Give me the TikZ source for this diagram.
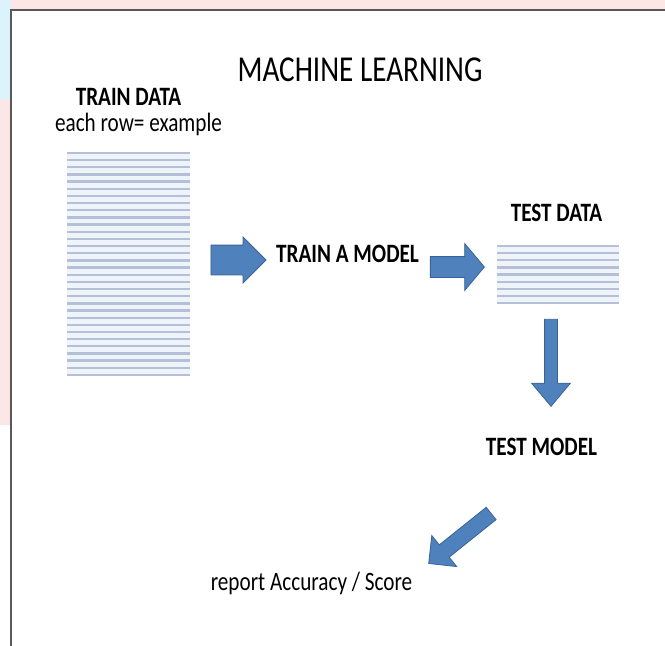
\documentclass[tikz,border=0pt]{standalone}
\usepackage{fontspec}
\setmainfont{Carlito}
\usepackage{xcolor}
\usepackage{tikz}
\usetikzlibrary{shapes.arrows}

\definecolor{arrowblue}{HTML}{4F81BD}
\definecolor{arrowedge}{HTML}{3A6496}
\definecolor{rowline}{HTML}{B3C0D8}
\definecolor{rowfill}{HTML}{EFF4FB}
\definecolor{edgepink}{HTML}{FDE6E6}
\definecolor{edgeblue}{HTML}{DDF3FB}

\begin{document}
\begin{tikzpicture}[
  x=1pt, y=-1pt,
  label/.style={anchor=base, inner sep=0pt, xscale=0.8, font=\fontsize{26.5}{28}\selectfont},
  head/.style={label, font=\fontsize{26.5}{28}\selectfont\bfseries},
  block/.style={single arrow, draw=arrowedge, fill=arrowblue, line width=0.8pt, inner xsep=0pt, single arrow head indent=0pt},
  rows/.style={draw=rowline, line width=2.3pt},
]
\useasboundingbox (0,0) rectangle (665,646);

%% --- page behind the slide ---
\fill[white] (0,0) rectangle (665,646);
\fill[edgepink] (0,0) rectangle (665,10);
\fill[edgeblue] (0,0) rectangle (11,100);
\fill[edgepink] (0,100) rectangle (11,425);
\draw[gray!70!black, line width=2.5pt] (11,646) -- (11,10) -- (665,10);

%% --- texts ---
\node[label, font=\fontsize{36.5}{39}\selectfont] (title) at (360,81) {MACHINE LEARNING};
\node[head]  (traindata)  at (128.5,105) {TRAIN DATA};
\node[label] (rowtext)    at (138.5,131) {each row= example};
\node[head]  (trainmodel) at (347.5,262) {TRAIN A MODEL};
\node[head]  (testdata)   at (556.5,221) {TEST DATA};
\node[head]  (testmodel)  at (541.5,455) {TEST MODEL};
\node[label] (report)     at (311.5,590) {report Accuracy / Score};

%% --- data tables ---
\fill[rowfill] (67,153) rectangle (190,375);
\foreach \i in {0,...,31}
  \draw[rows] (67,153+\i*7.16) -- (190,153+\i*7.16);
\fill[rowfill] (497,246) rectangle (619,303);
\foreach \i in {0,...,8}
  \draw[rows] (497,246+\i*7.13) -- (619,246+\i*7.13);

%% --- block arrows ---
\node[block, minimum height=55, inner ysep=14.5, single arrow head extend=8]  (go1) at (231,260) {};
\node[block, minimum height=54, inner ysep=10, single arrow head extend=13, single arrow tip angle=100] (go2) at (453,267) {};
\node[block, minimum height=87, inner ysep=6, single arrow head extend=13, single arrow tip angle=80, rotate=-90] (go3) at (551,359) {};
\node[block, minimum height=80, inner ysep=7.5, single arrow head extend=12, rotate=218.7] (go4) at (463,536) {};

\end{tikzpicture}
\end{document}
